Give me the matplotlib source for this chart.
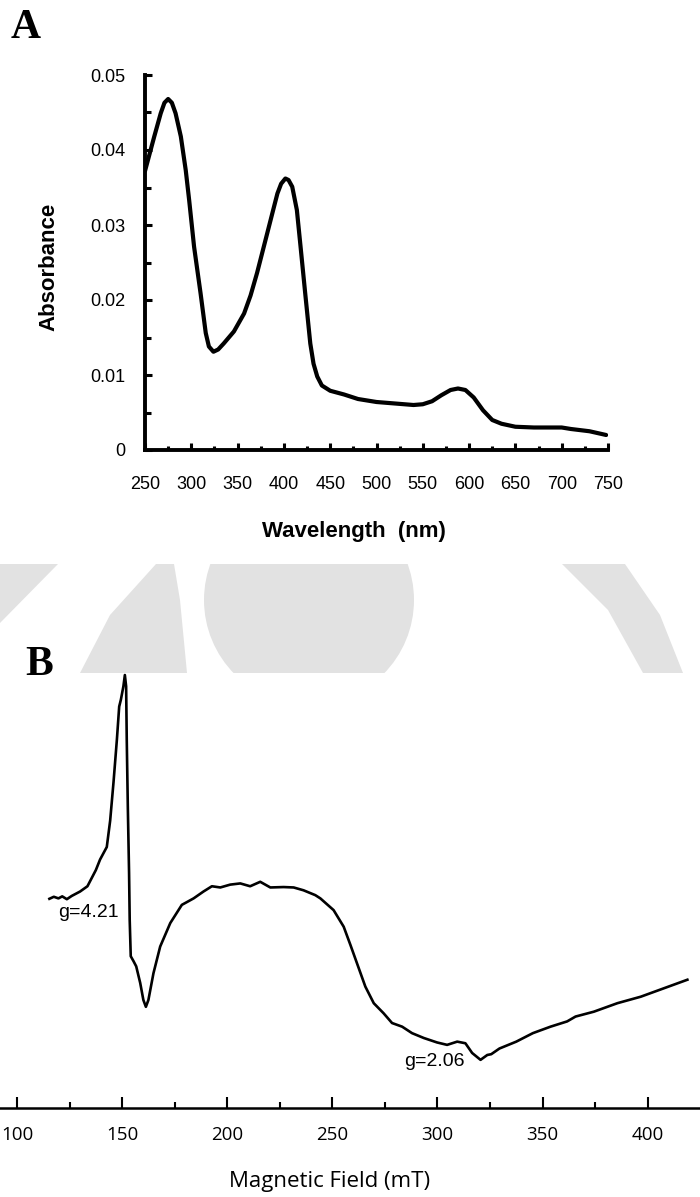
import matplotlib
matplotlib.use("Agg")
import matplotlib.pyplot as plt
from matplotlib.patches import Polygon, Circle, Rectangle
from matplotlib.ticker import MultipleLocator

# ---------------- data: panel A (UV-vis) ----------------
wavelength = [250, 255, 260, 267, 271, 275, 279, 283, 288.7, 294, 297.7, 303, 310,
              315.6, 319, 323.9, 329, 335, 346, 357, 364, 371, 382, 388, 393, 397,
              401.6, 405, 409, 414, 418, 423, 428.5, 432, 436, 441, 450, 465, 480,
              500, 520, 540, 550, 560, 570, 580, 588, 596, 605, 615, 625, 635, 650,
              670, 700, 710, 730, 748]
absorbance = [0.0372, 0.0395, 0.0418, 0.0449, 0.0463, 0.0468, 0.0463, 0.0449, 0.0418,
              0.0373, 0.0333, 0.0271, 0.0209, 0.0156, 0.0138, 0.0131, 0.0134, 0.0142,
              0.0158, 0.0182, 0.0206, 0.0236, 0.0289, 0.0318, 0.0342, 0.0355, 0.0362,
              0.0360, 0.0351, 0.0320, 0.0271, 0.0209, 0.0142, 0.0115, 0.0098, 0.0086,
              0.0079, 0.0074, 0.0068, 0.0064, 0.0062, 0.0060, 0.0061, 0.0065, 0.0073,
              0.0080, 0.0082, 0.0080, 0.0070, 0.0053, 0.0040, 0.0035, 0.0031, 0.0030,
              0.0030, 0.0028, 0.0025, 0.0020]
a_yticks = [0, 0.01, 0.02, 0.03, 0.04, 0.05]
a_yticklabels = ["0", "0.01", "0.02", "0.03", "0.04", "0.05"]
a_xticks = [250, 300, 350, 400, 450, 500, 550, 600, 650, 700, 750]

# ---------------- data: panel B (EPR) ----------------
field = [115.4, 117.5, 119.7, 121.5, 123.7, 126.0, 130.0, 133.5, 135.6, 137.5, 139.5,
         142.7, 144.3, 145.9, 147.5, 148.6, 149.4, 150.6, 151.3, 151.9, 152.2, 152.7,
         153.3, 153.6, 154.1, 155.4, 156.7, 158.6, 160.1, 161.3, 162.5, 164.9, 168.1,
         172.9, 178.4, 184.0, 188.7, 192.7, 196.7, 201.4, 206.2, 210.9, 215.7, 220.5,
         226.8, 231.6, 236.3, 241.9, 244.3, 250.6, 255.4, 258.6, 261.7, 265.7, 269.7,
         274.4, 278.4, 283.2, 287.9, 293.5, 299.8, 304.6, 309.4, 313.3, 316.5, 320.5,
         323.7, 325.6, 329.5, 337.5, 345.4, 353.8, 361.7, 365.7, 374.4, 385.6, 396.7,
         407.8, 418.9]
intensity = [51.7, 52.2, 51.8, 52.3, 51.6, 52.4, 53.5, 54.8, 56.9, 58.8, 61.4,
             64.5, 71.0, 80.5, 91.0, 99.2, 100.9, 104.2, 107.0, 104.2, 91.0, 74.6,
             58.1, 46.5, 37.5, 36.3, 35.0, 30.9, 26.7, 25.0, 26.7, 33.3, 39.9,
             45.7, 50.2, 51.8, 53.5, 54.8, 54.5, 55.2, 55.5, 54.8, 55.9, 54.5,
             54.6, 54.5, 53.8, 52.6, 51.8, 48.9, 44.8, 40.3, 35.8, 30.0, 25.9,
             23.4, 21.0, 20.1, 18.5, 17.3, 16.2, 15.6, 16.4, 16.0, 13.6, 11.9,
             13.1, 13.3, 14.7, 16.4, 18.5, 20.1, 21.4, 22.6, 23.8, 25.9, 27.5,
             29.6, 31.7]
b_xticks = [100, 150, 200, 250, 300, 350, 400]
g_labels = ["g=4.21", "g=2.06"]
g_positions = [(133.8, 48.4), (298.6, 11.4)]   # (field, intensity) of label centres

# ---------------- figure ----------------
W, H = 700, 1197
fig = plt.figure(figsize=(W / 100, H / 100), dpi=100)
fig.patch.set_facecolor("white")

# background watermark (decorative)
bg = fig.add_axes([0, 0, 1, 1], zorder=-5)
bg.set_xlim(0, W)
bg.set_ylim(H, 0)
bg.axis("off")
grey = "#e2e2e2"
band = Rectangle((0, 564), W, 109, transform=bg.transData, facecolor="none", edgecolor="none")
bg.add_patch(band)
shapes = [
    Polygon([(0, 564), (58, 564), (0, 623)], closed=True),
    Polygon([(156, 564), (174, 564), (180, 600), (187, 673), (80, 673), (110, 615)],
            closed=True),
    Circle((309, 600), 105),
    Polygon([(562, 564), (625, 564), (660, 615), (683, 673), (643, 673), (608, 610)],
            closed=True),
]
for s in shapes:
    s.set_facecolor(grey)
    s.set_edgecolor("none")
    bg.add_patch(s)
    s.set_clip_path(band)

# ---------------- panel A ----------------
axA = fig.add_axes([145 / W, 1 - 450 / H, (608 - 145) / W, (450 - 75) / H])
axA.patch.set_alpha(0)
axA.plot(wavelength, absorbance, color="black", lw=3.0, solid_capstyle="round",
         solid_joinstyle="round")
axA.set_xlim(250, 750)
axA.set_ylim(0, 0.05)
for sp in ["top", "right"]:
    axA.spines[sp].set_visible(False)
for sp in ["left", "bottom"]:
    axA.spines[sp].set_linewidth(2.8)
axA.set_xticks(a_xticks)
axA.xaxis.set_minor_locator(MultipleLocator(25))
axA.set_yticks(a_yticks)
axA.set_yticklabels(a_yticklabels)
axA.yaxis.set_minor_locator(MultipleLocator(0.005))
axA.tick_params(axis="x", which="major", direction="in", length=5, width=2.2, pad=19,
                labelsize=13)
axA.tick_params(axis="x", which="minor", direction="in", length=3, width=2.2)
axA.tick_params(axis="y", which="major", direction="in", length=5, width=2.2, pad=14,
                labelsize=13)
axA.tick_params(axis="y", which="minor", direction="in", length=4, width=2.2)
for lab in axA.get_xticklabels() + axA.get_yticklabels():
    lab.set_family("Liberation Sans")

fig.text(49 / W, 1 - 267 / H, "Absorbance", rotation=90, ha="center", va="center",
         family="Liberation Sans", fontweight="bold", fontsize=16)
fig.text(354 / W, 1 - 532 / H, "Wavelength  (nm)", ha="center", va="center",
         family="Liberation Sans", fontweight="bold", fontsize=16)
fig.text(26 / W, 1 - 28 / H, "A", ha="center", va="center",
         family="Liberation Serif", fontweight="bold", fontsize=30)

# ---------------- panel B ----------------
axB = fig.add_axes([0, 1 - 1108 / H, 1, (1108 - 673) / H])
axB.patch.set_alpha(0)
axB.plot(field, intensity, color="black", lw=1.9, solid_joinstyle="round")
axB.set_xlim(91.9, 424.9)
axB.set_ylim(0, 107.5)
for sp in ["top", "right", "left"]:
    axB.spines[sp].set_visible(False)
axB.spines["bottom"].set_linewidth(1.8)
axB.set_yticks([])
axB.set_xticks(b_xticks)
axB.xaxis.set_minor_locator(MultipleLocator(25))
axB.tick_params(axis="x", which="major", direction="in", length=8, width=1.5, pad=13,
                labelsize=13.5)
axB.tick_params(axis="x", which="minor", direction="in", length=4, width=1.5)
for lab in axB.get_xticklabels():
    lab.set_family("Open Sans")

for txt, (gx, gy) in zip(g_labels, g_positions):
    axB.text(gx, gy, txt, ha="center", va="center", family="Liberation Sans",
             fontsize=14)

fig.text(330 / W, 1 - 1182 / H, "Magnetic Field (mT)", ha="center", va="center",
         family="Open Sans", fontsize=16)
fig.text(39 / W, 1 - 665 / H, "B", ha="center", va="center",
         family="Liberation Serif", fontweight="bold", fontsize=30)

fig.savefig("out.png", dpi=100, facecolor="white")
